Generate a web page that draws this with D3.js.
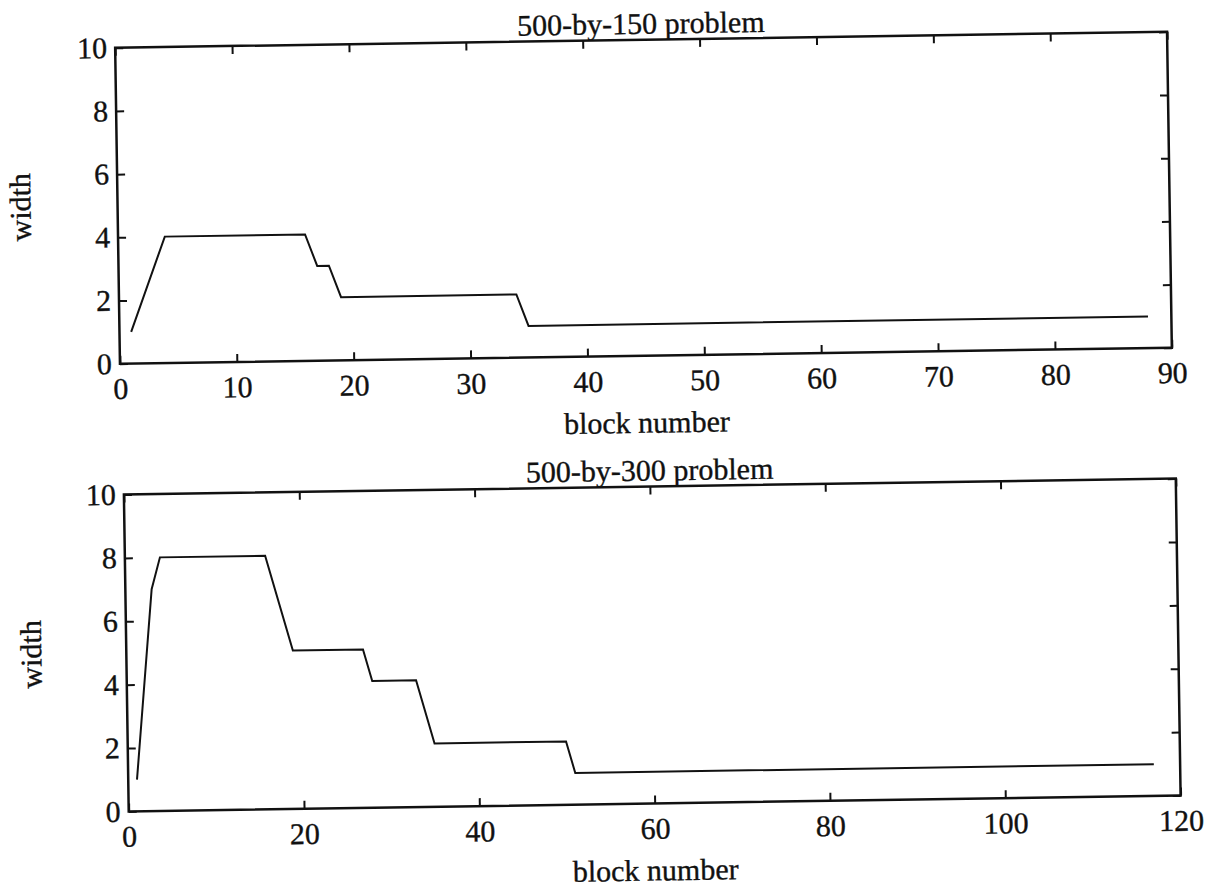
<!DOCTYPE html>
<html>
<head>
<meta charset="utf-8">
<script src="https://cdn.jsdelivr.net/npm/d3@7"></script>
<style>
  html, body { margin: 0; padding: 0; background: #fff; }
  svg { display: block; }
  text { font-family: "Liberation Serif", "DejaVu Serif", serif; fill: #111; stroke: #111; stroke-width: 0.35px; }
</style>
</head>
<body>
<svg id="chart" width="1216" height="887"></svg>
<script>
// ---- data ----
const topTitle = "500-by-150 problem";
const topBlocks = [1, 4, 16, 17, 18, 19, 34, 35, 88];
const topWidths = [1, 4, 4, 3, 3, 2, 2, 1, 1];
const topXTicks = [0, 10, 20, 30, 40, 50, 60, 70, 80, 90];

const botTitle = "500-by-300 problem";
const botBlocks = [1, 3, 4, 16, 19, 27, 28, 33, 35, 50, 51, 117];
const botWidths = [1, 7, 8, 8, 5, 5, 4, 4, 2, 2, 1, 1];
const botXTicks = [0, 20, 40, 60, 80, 100, 120];

const yTicks = [0, 2, 4, 6, 8, 10];
const xLabel = "block number";
const yLabel = "width";

const svg = d3.select("#chart");

function panel(cfg) {
  const w = cfg.w, h = cfg.h;
  const g = svg.append("g")
    .attr("transform", `translate(${cfg.cx},${cfg.cy}) rotate(${cfg.angle}) translate(${-w / 2},${-h / 2})`);

  const x = d3.scaleLinear().domain([0, cfg.xmax]).range([0, w]);
  const y = d3.scaleLinear().domain([0, 10]).range([h, 0]);

  const fontSize = 30;

  // bottom axis (labels)
  const ax = g.append("g").attr("transform", `translate(0,${h})`)
    .call(d3.axisBottom(x).tickValues(cfg.xTicks).tickSize(-8).tickPadding(14).tickFormat(d3.format("d")));
  // top axis (ticks only)
  const axT = g.append("g")
    .call(d3.axisTop(x).tickValues(cfg.xTicks).tickSize(-8).tickFormat(""));
  // left axis
  const ay = g.append("g")
    .call(d3.axisLeft(y).tickValues(yTicks).tickSize(-8).tickPadding(8).tickFormat(d3.format("d")));
  // right axis
  const ayR = g.append("g").attr("transform", `translate(${w},0)`)
    .call(d3.axisRight(y).tickValues(yTicks).tickSize(-8).tickFormat(""));

  [ax, axT, ay, ayR].forEach(a => {
    a.select(".domain").remove();
    a.selectAll(".tick line").attr("stroke", "#111").attr("stroke-width", 2);
    a.selectAll("text").attr("font-size", fontSize).attr("fill", "#111")
      .attr("font-family", '"Liberation Serif", serif');
  });

  // frame
  g.append("rect").attr("x", 0).attr("y", 0).attr("width", w).attr("height", h)
    .attr("fill", "none").attr("stroke", "#111").attr("stroke-width", 2.5);

  // data line
  const pts = cfg.xs.map((v, i) => [v, cfg.ys[i]]);
  g.append("path").datum(pts)
    .attr("fill", "none").attr("stroke", "#111").attr("stroke-width", 2)
    .attr("stroke-linejoin", "miter")
    .attr("d", d3.line().x(d => x(d[0])).y(d => y(d[1])));

  // title
  g.append("text").attr("x", w / 2).attr("y", -6)
    .attr("text-anchor", "middle").attr("font-size", fontSize).text(cfg.title);
  // x label
  g.append("text").attr("x", w / 2).attr("y", h + 77)
    .attr("text-anchor", "middle").attr("font-size", fontSize).text(xLabel);
  // y label
  g.append("text")
    .attr("transform", `translate(${cfg.ylabX},${h / 2}) rotate(-90)`)
    .attr("text-anchor", "middle").attr("dy", "0.33em")
    .attr("font-size", fontSize).text(yLabel);
}

panel({ cx: 643.5, cy: 197.75, w: 1052, h: 316, angle: -0.87, xmax: 90,
        xTicks: topXTicks, xs: topBlocks, ys: topWidths, title: topTitle, ylabX: -97 });
panel({ cx: 652.25, cy: 645, w: 1052, h: 317, angle: -0.87, xmax: 120,
        xTicks: botXTicks, xs: botBlocks, ys: botWidths, title: botTitle, ylabX: -95 });
</script>
</body>
</html>
